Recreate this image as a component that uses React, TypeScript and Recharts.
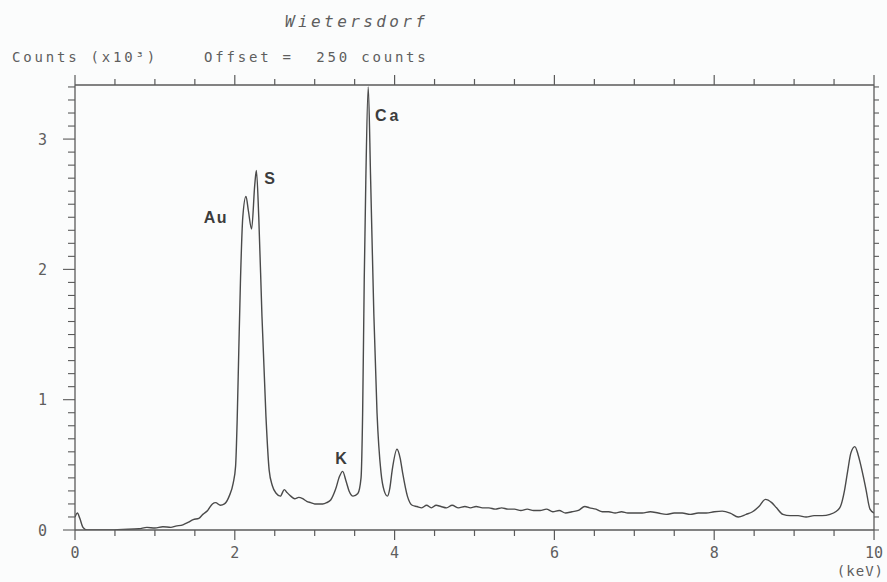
import React from 'react';
import { LineChart, Line, XAxis, YAxis, ReferenceDot } from 'recharts';

// Energy (keV) and counts (x10^3)
const keV = [
  0.0, 0.03, 0.06, 0.1, 0.15, 0.4, 0.6, 0.8, 0.9, 1.0, 1.1, 1.2, 1.26, 1.35, 1.42, 1.48, 1.55, 1.6, 1.66, 1.72,
  1.76, 1.82, 1.87, 1.93, 1.98, 2.01, 2.03, 2.05, 2.07, 2.1, 2.14, 2.17, 2.21, 2.25, 2.27, 2.3, 2.34, 2.39, 2.43, 2.47,
  2.52, 2.57, 2.62, 2.65, 2.7, 2.75, 2.8, 2.85, 2.9, 2.95, 3.0, 3.05, 3.1, 3.15, 3.2, 3.26, 3.31, 3.35, 3.39, 3.43,
  3.48, 3.54, 3.58, 3.6, 3.62, 3.64, 3.67, 3.7, 3.74, 3.78, 3.83, 3.87, 3.91, 3.94, 3.97, 4.03, 4.07, 4.1, 4.16, 4.22,
  4.28, 4.34, 4.4, 4.46, 4.52, 4.58, 4.65, 4.72, 4.8, 4.88, 4.95, 5.02, 5.1, 5.18, 5.26, 5.34, 5.42, 5.5, 5.58, 5.66,
  5.74, 5.82, 5.9, 5.98, 6.06, 6.14, 6.22, 6.3, 6.38, 6.44, 6.52, 6.6, 6.68, 6.76, 6.84, 6.92, 7.0, 7.1, 7.2, 7.3,
  7.4, 7.5, 7.6, 7.7, 7.8, 7.9, 8.0, 8.1, 8.2, 8.3, 8.4, 8.48, 8.56, 8.64, 8.72, 8.78, 8.86, 8.95, 9.05, 9.15,
  9.25, 9.35, 9.45, 9.52, 9.58, 9.63, 9.67, 9.71, 9.76, 9.8, 9.83, 9.87, 9.9, 9.95, 10.0,
];
const counts = [
  0.1, 0.13, 0.09, 0.02, 0.0, 0.0, 0.005, 0.01, 0.02, 0.015, 0.025, 0.02, 0.03, 0.04, 0.06, 0.08, 0.09, 0.12, 0.15, 0.2,
  0.21, 0.19, 0.2, 0.26, 0.36, 0.49, 0.85, 1.38, 1.89, 2.4, 2.56, 2.45, 2.31, 2.65, 2.76, 2.4, 1.64, 0.87, 0.46, 0.34,
  0.28, 0.26, 0.31, 0.29, 0.26, 0.24, 0.25, 0.24, 0.22, 0.21, 0.2, 0.2, 0.2, 0.21, 0.23, 0.31, 0.41, 0.45, 0.38, 0.3,
  0.26, 0.28, 0.4, 0.9, 1.92, 2.69, 3.4, 2.69, 1.66, 0.9, 0.44, 0.3, 0.26, 0.32, 0.46, 0.62, 0.55, 0.44, 0.26, 0.19,
  0.18, 0.17, 0.19, 0.17, 0.19, 0.18, 0.17, 0.19, 0.17, 0.18, 0.17, 0.18, 0.17, 0.17, 0.16, 0.17, 0.16, 0.16, 0.15, 0.16,
  0.15, 0.15, 0.16, 0.14, 0.15, 0.13, 0.14, 0.15, 0.18, 0.17, 0.16, 0.14, 0.14, 0.13, 0.14, 0.13, 0.13, 0.13, 0.14, 0.13,
  0.12, 0.13, 0.13, 0.12, 0.13, 0.13, 0.14, 0.145, 0.13, 0.1, 0.12, 0.14, 0.18, 0.235, 0.21, 0.17, 0.12, 0.11, 0.11, 0.1,
  0.11, 0.11, 0.12, 0.14, 0.18, 0.3, 0.45, 0.59, 0.64, 0.58, 0.51, 0.4, 0.31, 0.16, 0.13,
];

// Peak annotations
const peakNames = ['Au', 'S', 'K', 'Ca'];
const peakKeV = [2.14, 2.27, 3.35, 3.67];
const peakCounts = [2.56, 2.76, 0.45, 3.4];
const peakDx = [-30, 14, -1, 20];
const peakDy = [21, 8, -13, 29];

// Ticks
const xTicks = [0, 0.5, 1, 1.5, 2, 2.5, 3, 3.5, 4, 4.5, 5, 5.5, 6, 6.5, 7, 7.5, 8, 8.5, 9, 9.5, 10];
const xTickLabels = [0, 2, 4, 6, 8, 10];
const yTicks = [
  0, 0.1, 0.2, 0.3, 0.4, 0.5, 0.6, 0.7, 0.8, 0.9, 1, 1.1, 1.2, 1.3, 1.4, 1.5, 1.6, 1.7, 1.8, 1.9, 2, 2.1, 2.2, 2.3,
  2.4, 2.5, 2.6, 2.7, 2.8, 2.9, 3, 3.1, 3.2, 3.3, 3.4,
];
const yTickLabels = [0, 1, 2, 3];

const Y_MAX = 3.415;
const AXIS = '#5a5a5a';
const TXT = '#5e5e5e';
const MONO = '"DejaVu Sans Mono", "Liberation Mono", monospace';

const data = keV.map((e, i) => ({ e, c: counts[i] }));

const isLabel = (arr: number[], v: number) => arr.some((a) => Math.abs(a - v) < 1e-6);

const BottomTick = (props: any) => {
  const { x, y, payload } = props;
  const v = payload.value;
  const major = isLabel(xTickLabels, v);
  return (
    <g>
      <line x1={x} x2={x} y1={y} y2={y + (major ? 10 : 6)} stroke={AXIS} strokeWidth={1.2} />
      {major && (
        <text x={x} y={y + 28} textAnchor="middle" fontFamily={MONO} fontSize={15} fill={TXT}>
          {v}
        </text>
      )}
    </g>
  );
};

const TopTick = (props: any) => {
  const { x, y, payload } = props;
  const major = isLabel(xTickLabels, payload.value);
  return <line x1={x} x2={x} y1={y} y2={y - (major ? 10 : 6)} stroke={AXIS} strokeWidth={1.2} />;
};

const LeftTick = (props: any) => {
  const { x, y, payload } = props;
  const v = payload.value;
  const major = isLabel(yTickLabels, v);
  return (
    <g>
      <line x1={x} x2={x - (major ? 12 : 7)} y1={y} y2={y} stroke={AXIS} strokeWidth={1.1} />
      {major && (
        <text x={x - 28} y={y + 5.5} textAnchor="end" fontFamily={MONO} fontSize={15} fill={TXT}>
          {v}
        </text>
      )}
    </g>
  );
};

const RightTick = (props: any) => {
  const { x, y } = props;
  return <line x1={x} x2={x + 5} y1={y} y2={y} stroke={AXIS} strokeWidth={1.1} />;
};

const makePeakShape = (i: number) => (p: any) => (
  <text
    x={p.cx + peakDx[i]}
    y={p.cy + peakDy[i] + 5.5}
    textAnchor="middle"
    fontFamily='"Liberation Sans", Arial, sans-serif'
    fontWeight="bold"
    fontSize={16}
    letterSpacing={peakNames[i] === 'Ca' ? 3 : 1.5}
    fill="#3c3c3c"
  >
    {peakNames[i]}
  </text>
);

export default function App() {
  return (
    <div style={{ position: 'absolute', left: 0, top: 0, width: 887, height: 582, background: '#fbfcfc' }}>
      <LineChart
        width={887}
        height={582}
        data={data}
        margin={{ top: 55, right: 3, bottom: 22, left: 15 }}
      >
        <XAxis
          xAxisId="b"
          dataKey="e"
          type="number"
          domain={[0, 10]}
          ticks={xTicks}
          interval={0}
          height={30}
          tickSize={0}
          tickMargin={0}
          tickLine={false}
          axisLine={{ stroke: AXIS, strokeWidth: 1.3 }}
          tick={<BottomTick />}
          allowDataOverflow
        />
        <XAxis
          xAxisId="t"
          orientation="top"
          dataKey="e"
          type="number"
          domain={[0, 10]}
          ticks={xTicks}
          interval={0}
          height={30}
          tickSize={0}
          tickMargin={0}
          tickLine={false}
          axisLine={{ stroke: AXIS, strokeWidth: 1.3 }}
          tick={<TopTick />}
          allowDataOverflow
        />
        <YAxis
          yAxisId="l"
          type="number"
          domain={[0, Y_MAX]}
          ticks={yTicks}
          interval={0}
          width={60}
          tickSize={0}
          tickMargin={0}
          tickLine={false}
          axisLine={{ stroke: AXIS, strokeWidth: 1.3 }}
          tick={<LeftTick />}
          allowDataOverflow
        />
        <YAxis
          yAxisId="r"
          orientation="right"
          type="number"
          domain={[0, Y_MAX]}
          ticks={yTicks}
          interval={0}
          width={10}
          tickSize={0}
          tickMargin={0}
          tickLine={false}
          axisLine={{ stroke: AXIS, strokeWidth: 1.3 }}
          tick={<RightTick />}
          allowDataOverflow
        />
        <Line
          xAxisId="t"
          yAxisId="r"
          dataKey="c"
          stroke="none"
          dot={false}
          activeDot={false}
          isAnimationActive={false}
        />
        <Line
          xAxisId="b"
          yAxisId="l"
          type="monotone"
          dataKey="c"
          stroke="#4a4a4a"
          strokeWidth={1.4}
          dot={false}
          activeDot={false}
          isAnimationActive={false}
        />
        {peakNames.map((n, i) => (
          <ReferenceDot
            key={n}
            xAxisId="b"
            yAxisId="l"
            x={peakKeV[i]}
            y={peakCounts[i]}
            r={0}
            ifOverflow="visible"
            shape={makePeakShape(i)}
          />
        ))}
      </LineChart>
      <svg
        width={887}
        height={582}
        style={{ position: 'absolute', left: 0, top: 0, pointerEvents: 'none' }}
      >
        <text x={285} y={27} fontFamily={MONO} fontStyle="italic" fontSize={16} letterSpacing={3.4} fill={TXT}>
          Wietersdorf
        </text>
        <text x={12} y={62} fontFamily={MONO} fontSize={14} letterSpacing={2.8} fill={TXT}>
          Counts (x10³)
        </text>
        <text x={204} y={62} fontFamily={MONO} fontSize={14} letterSpacing={2.8} fill={TXT} style={{ whiteSpace: 'pre' }}>
          {'Offset =  250 counts'}
        </text>
        <text x={884} y={576} textAnchor="end" fontFamily={MONO} fontSize={14} letterSpacing={1} fill={TXT}>
          (keV)
        </text>
      </svg>
    </div>
  );
}
